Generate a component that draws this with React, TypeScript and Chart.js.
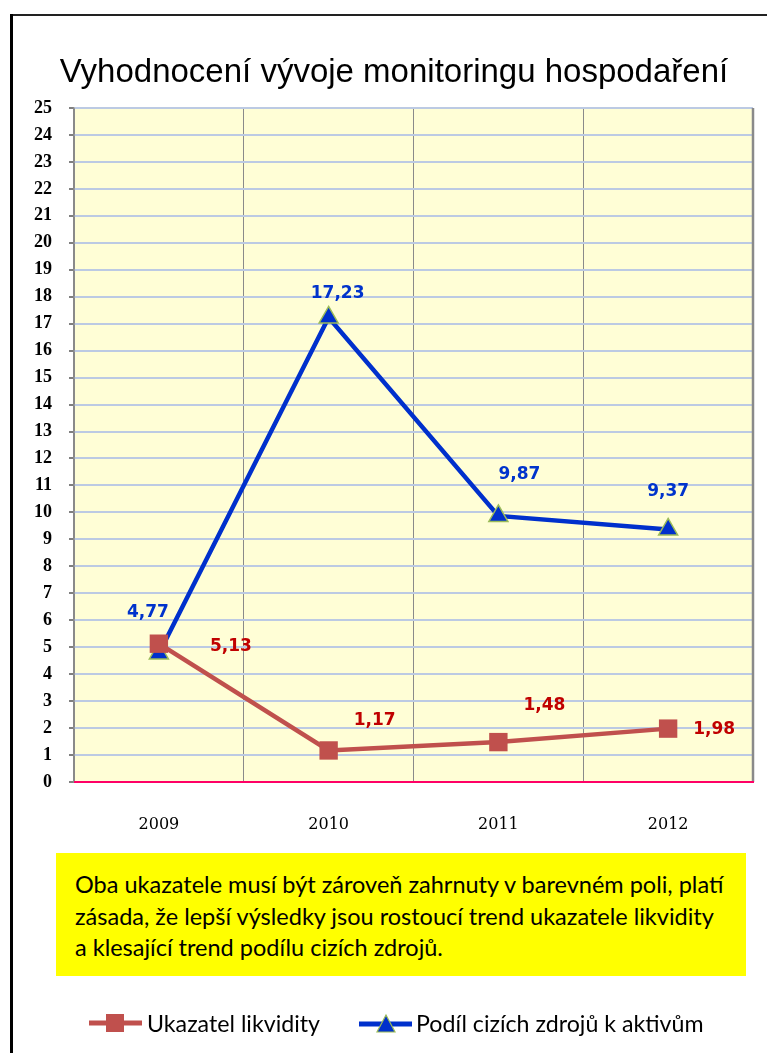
import React, { useEffect, useRef } from "react";
import { Chart, registerables } from "chart.js";

Chart.register(...registerables);

const titleText = "Vyhodnocení vývoje monitoringu hospodaření";
const categories = ["2009", "2010", "2011", "2012"];
const liquidityName = "Ukazatel likvidity";
const shareName = "Podíl cizích zdrojů k aktivům";
const liquidityValues = [5.13, 1.17, 1.48, 1.98];
const shareValues = [4.77, 17.23, 9.87, 9.37];
const liquidityLabels = ["5,13", "1,17", "1,48", "1,98"];
const shareLabels = ["4,77", "17,23", "9,87", "9,37"];
const yMin = 0;
const yMax = 25;
const yStep = 1;
const noteLines = [
  "Oba ukazatele musí být zároveň zahrnuty v barevném poli, platí",
  "zásada, že lepší výsledky jsou rostoucí trend ukazatele likvidity",
  "a klesající trend podílu cizích zdrojů.",
];

// label offsets (style only) relative to each point
const liquidityLabelOffsets = [
  [72, 3],
  [46, -30],
  [46, -37],
  [46, 1],
];
const shareLabelOffsets = [
  [-11, -41],
  [9, -24],
  [21, -41],
  [0, -38],
];

const RED = "#c0504d";
const RED_TEXT = "#c00000";
const BLUE = "#0030cc";
const BLUE_TEXT = "#0033cc";

const decorPlugin = {
  id: "decor",
  beforeDraw(chart: any) {
    const { ctx, chartArea } = chart;
    ctx.save();
    ctx.fillStyle = "#fffed6";
    ctx.fillRect(chartArea.left, chartArea.top, chartArea.right - chartArea.left, chartArea.bottom - chartArea.top);
    ctx.restore();
  },
  beforeDatasetsDraw(chart: any) {
    const { ctx, chartArea } = chart;
    ctx.save();
    ctx.strokeStyle = "#8a8a8a";
    ctx.lineWidth = 2.5;
    ctx.beginPath();
    ctx.moveTo(chartArea.right, chartArea.top);
    ctx.lineTo(chartArea.right, chartArea.bottom);
    ctx.stroke();
    ctx.strokeStyle = "#ff0066";
    ctx.lineWidth = 2;
    ctx.beginPath();
    ctx.moveTo(chartArea.left, chartArea.bottom);
    ctx.lineTo(chartArea.right + 1, chartArea.bottom);
    ctx.stroke();
    ctx.restore();
  },
  afterDatasetsDraw(chart: any) {
    const { ctx } = chart;
    ctx.save();
    ctx.font = "bold 17px 'DejaVu Sans'";
    ctx.textAlign = "center";
    ctx.textBaseline = "middle";
    const sets = [
      { idx: 0, labels: liquidityLabels, offs: liquidityLabelOffsets, color: RED_TEXT },
      { idx: 1, labels: shareLabels, offs: shareLabelOffsets, color: BLUE_TEXT },
    ];
    sets.forEach((s) => {
      const meta = chart.getDatasetMeta(s.idx);
      ctx.fillStyle = s.color;
      meta.data.forEach((pt: any, i: number) => {
        ctx.fillText(s.labels[i], pt.x + s.offs[i][0], pt.y + s.offs[i][1]);
      });
    });
    ctx.restore();
  },
  afterDraw(chart: any) {
    const { ctx } = chart;
    ctx.save();
    ctx.font = "33px 'Liberation Sans'";
    ctx.fillStyle = "#000";
    ctx.textAlign = "center";
    ctx.textBaseline = "middle";
    ctx.fillText(titleText, 394, 73);
    ctx.restore();
  },
};

export default function App() {
  const ref = useRef<HTMLCanvasElement>(null);

  useEffect(() => {
    document.body.style.margin = "0";
    const canvas = ref.current!;
    const chart = new Chart(canvas, {
      type: "line",
      data: {
        labels: categories,
        datasets: [
          {
            label: liquidityName,
            data: liquidityValues,
            borderColor: RED,
            backgroundColor: RED,
            borderWidth: 4.5,
            pointStyle: "rect",
            pointRadius: 13,
            pointBorderWidth: 0,
            pointBackgroundColor: RED,
            pointBorderColor: RED,
            tension: 0,
          },
          {
            label: shareName,
            data: shareValues,
            borderColor: BLUE,
            backgroundColor: BLUE,
            borderWidth: 4.5,
            pointStyle: "triangle",
            pointRadius: 11,
            pointBorderWidth: 1.5,
            pointBackgroundColor: BLUE,
            pointBorderColor: "#9bbb59",
            tension: 0,
          },
        ],
      },
      options: {
        responsive: false,
        animation: false,
        devicePixelRatio: 1,
        layout: { padding: { left: 24, right: 14, top: 108, bottom: 8 } },
        plugins: {
          legend: { display: false },
          title: { display: false },
          tooltip: { enabled: false },
        },
        events: [],
        scales: {
          x: {
            type: "category",
            offset: true,
            grid: {
              offset: true,
              color: "#8a8a8a",
              lineWidth: 1,
              drawTicks: false,
            },
            border: { display: false },
            ticks: {
              color: "#000",
              font: { family: "'DejaVu Serif'", size: 16 },
              padding: 33,
            },
            afterFit: (s: any) => {
              s.height = 60;
            },
          },
          y: {
            min: yMin,
            max: yMax,
            grid: {
              color: (c: any) => (c.tick && c.tick.value === 0 ? "rgba(0,0,0,0)" : "#bccae3"),
              lineWidth: 2,
              tickColor: "#808080",
              tickLength: 5,
              tickWidth: 2,
            },
            border: { color: "#8a8a8a", width: 1.5 },
            ticks: {
              stepSize: yStep,
              color: "#000",
              font: { family: "'Liberation Serif'", size: 18, weight: "bold" },
              padding: 17,
            },
            afterFit: (s: any) => {
              s.width = 50;
            },
          },
        },
      },
      plugins: [decorPlugin],
    });
    return () => chart.destroy();
  }, []);

  const legendFont = "Lato, 'Noto Sans', sans-serif";

  return (
    <div style={{ position: "relative", width: 767, height: 1053, background: "#fff", overflow: "hidden" }}>
      <canvas ref={ref} width={767} height={850} style={{ position: "absolute", left: 0, top: 0, width: 767, height: 850 }} />
      {/* frame */}
      <div style={{ position: "absolute", left: 10, top: 14, width: 757, height: 1.5, background: "#222" }} />
      <div style={{ position: "absolute", left: 10, top: 14, width: 3, height: 1039, background: "#000" }} />
      {/* note box */}
      <div
        style={{
          position: "absolute",
          left: 56,
          top: 853,
          width: 690,
          height: 123,
          background: "#ffff00",
          boxSizing: "border-box",
          padding: "16px 0 0 19px",
          fontFamily: legendFont,
          fontSize: 23.5,
          lineHeight: "31.5px",
          color: "#000",
          whiteSpace: "nowrap",
        }}
      >
        {noteLines.map((l, i) => (
          <div key={i}>{l}</div>
        ))}
      </div>
      {/* legend */}
      <div style={{ position: "absolute", left: 0, top: 1008, width: 767, height: 30, fontFamily: legendFont, fontSize: 23.2, color: "#000" }}>
        <svg style={{ position: "absolute", left: 88, top: 4 }} width={56} height={22}>
          <line x1={1} y1={11} x2={54} y2={11} stroke={RED} strokeWidth={5} />
          <rect x={18} y={2} width={18} height={18} fill={RED} />
        </svg>
        <span style={{ position: "absolute", left: 147, top: 0, lineHeight: "30px" }}>{liquidityName}</span>
        <svg style={{ position: "absolute", left: 358, top: 4 }} width={56} height={22}>
          <line x1={1} y1={12} x2={54} y2={12} stroke={BLUE} strokeWidth={5} />
          <polygon points="28,3 37,20 19,20" fill={BLUE} stroke="#9bbb59" strokeWidth={1.2} />
        </svg>
        <span style={{ position: "absolute", left: 416, top: 0, lineHeight: "30px" }}>{shareName}</span>
      </div>
    </div>
  );
}
